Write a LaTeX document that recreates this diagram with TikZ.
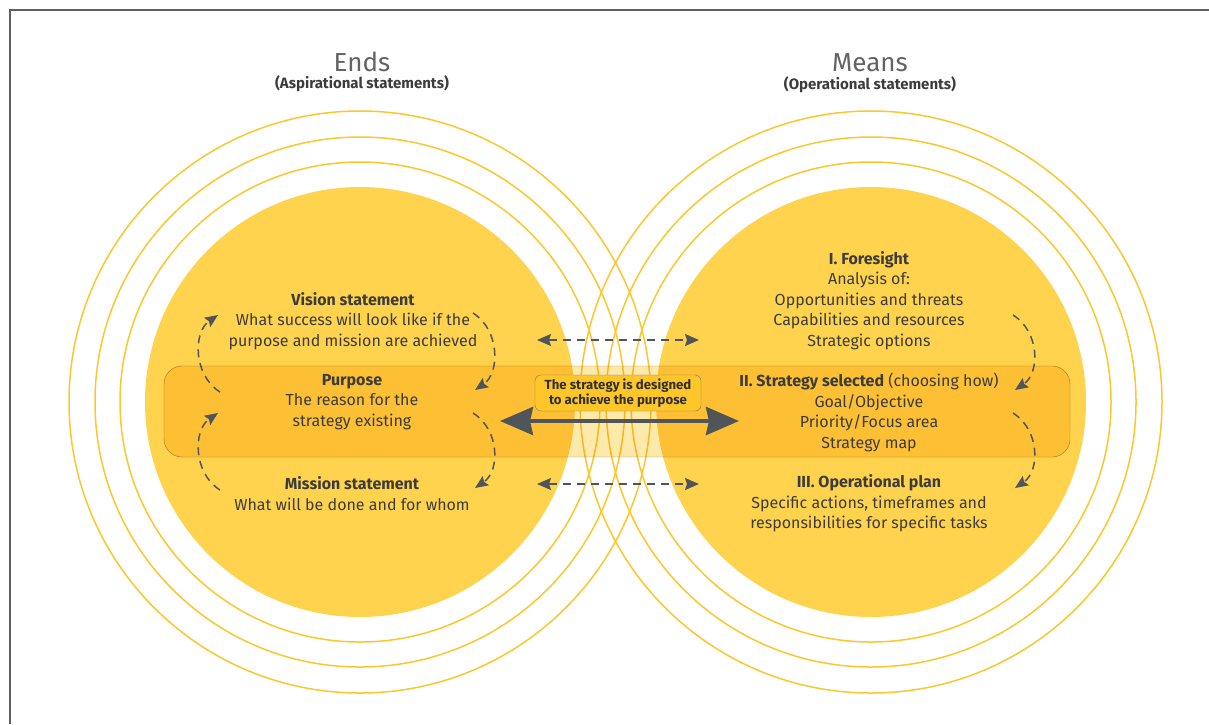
\documentclass[tikz,border=0pt]{standalone}
\usepackage{fontspec}
\setmainfont{Fira Sans}
\usetikzlibrary{arrows.meta}

\definecolor{disk}{RGB}{255,211,78}
\definecolor{ring}{RGB}{252,199,44}
\definecolor{band}{RGB}{253,233,170}
\definecolor{bandline}{RGB}{165,150,125}
\definecolor{notefill}{RGB}{255,198,41}
\definecolor{ink}{RGB}{60,60,60}
\definecolor{arrowgray}{RGB}{79,85,88}
\definecolor{framegray}{RGB}{95,95,95}

\begin{document}
\begin{tikzpicture}[x=1pt,y=-1pt,
  body/.style={align=center, text=ink, inner sep=0pt,
    font=\fontsize{16}{20.5}\selectfont},
  title/.style={text=ink!80, inner sep=0pt, font=\fontsize{26}{30}\selectfont},
  subtitle/.style={text=ink, inner sep=0pt, font=\fontsize{15}{16}\selectfont\bfseries},
  ringline/.style={draw=ring, line width=1.5pt},
  notebox/.style={draw=bandline!80!black, fill=notefill, rounded corners=6pt,
    align=center, text=ink!80!black, minimum width=166pt, minimum height=36pt,
    inner sep=0pt, font=\fontsize{13.2}{15}\selectfont\bfseries},
  dashline/.style={arrowgray, line width=1.5pt, dash pattern=on 8pt off 6pt},
  dasharrow/.style={dashline, -{Stealth[length=13pt,width=11pt,inset=2pt]}},
  dasharrows/.style={dashline,
    {Stealth[length=14pt,width=12pt,inset=2pt]}-{Stealth[length=14pt,width=12pt,inset=2pt]}},
  bigarrow/.style={arrowgray, line width=4pt,
    {Stealth[length=33pt,width=28pt,inset=3pt]}-{Stealth[length=33pt,width=28pt,inset=3pt]}}
]
\useasboundingbox (0,0) rectangle (1209,724);
\draw[framegray, line width=1.5pt] (10,724) -- (10,10) -- (1209,10);

\foreach \r in {240,265,291} {
  \draw[ringline] (360,402) circle[radius=\r pt];
  \draw[ringline] (871,402) circle[radius=\r pt];
}
\fill[disk] (360,402) circle[radius=215pt];
\fill[disk] (871,402) circle[radius=215pt];

\path[draw=bandline, fill=band, blend mode=multiply, rounded corners=18pt]
  (164,366) rectangle (1070,457);

\node[title] (ends) at (362,62) {Ends};
\node[subtitle] (endsub) at (362,84) {(Aspirational statements)};
\node[title] (means) at (870,63) {Means};
\node[subtitle] (meansub) at (870,85) {(Operational statements)};

% ends
\node[body] (vision) at (353,321) {{\bfseries Vision statement}\\
  What success will look like if the\\purpose and mission are achieved};
\node[body] (purpose) at (352,402) {{\bfseries Purpose}\\
  The reason for the\\strategy existing};
\node[body] (mission) at (352,493.5) {{\bfseries Mission statement}\\
  What will be done and for whom};

% means
\node[body] (foresight) at (869,300.5) {{\bfseries I. Foresight}\\
  Analysis of:\\Opportunities and threats\\Capabilities and resources\\Strategic options};
\node[body] (selected) at (869,412.5) {{\bfseries II. Strategy selected} (choosing how)\\
  Goal/Objective\\Priority/Focus area\\Strategy map};
\node[body] (opplan) at (869,503.5) {{\bfseries III. Operational plan}\\
  Specific actions, timeframes and\\responsibilities for specific tasks};

\node[notebox] (note) at (618,393) {The strategy is designed\\to achieve the purpose};

\coordinate (purposeR) at (500,421);
\coordinate (selectedL) at (739,421);
\draw[bigarrow] (purposeR) -- (selectedL);

\coordinate (visionR) at (537,340);
\coordinate (foresightL) at (699,340);
\draw[dasharrows] (visionR) -- (foresightL);
\coordinate (missionR) at (537,484);
\coordinate (opplanL) at (699,484);
\draw[dasharrows] (missionR) -- (opplanL);

% loops round the ends
\coordinate (e1) at (220,392); \coordinate (e2) at (218,315);
\draw[dasharrow] (e1) .. controls (193,375) and (193,332) .. (e2);
\coordinate (e3) at (220,490); \coordinate (e4) at (218,413);
\draw[dasharrow] (e3) .. controls (193,473) and (193,430) .. (e4);
\coordinate (e5) at (473,313); \coordinate (e6) at (475,390);
\draw[dasharrow] (e5) .. controls (500,330) and (500,373) .. (e6);
\coordinate (e7) at (473,413); \coordinate (e8) at (475,488);
\draw[dasharrow] (e7) .. controls (500,430) and (500,471) .. (e8);

% steps of the means
\coordinate (m1) at (1013,315); \coordinate (m2) at (1015,390);
\draw[dasharrow] (m1) .. controls (1040,332) and (1040,373) .. (m2);
\coordinate (m3) at (1013,413); \coordinate (m4) at (1015,488);
\draw[dasharrow] (m3) .. controls (1040,430) and (1040,471) .. (m4);
\end{tikzpicture}
\end{document}
